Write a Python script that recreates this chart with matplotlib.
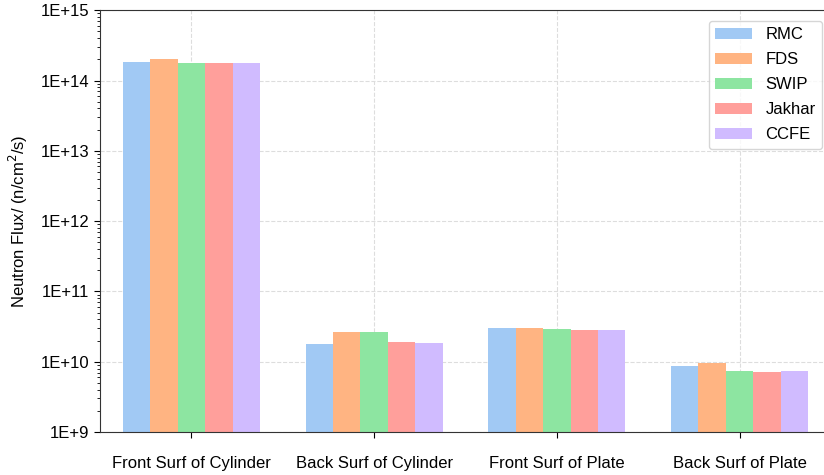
#!/usr/bin/env python3
import numpy as np
import matplotlib
matplotlib.use("Agg")
import matplotlib.pyplot as plt
from matplotlib.ticker import FixedLocator, FuncFormatter, LogLocator, NullFormatter

# data
categories = ["Front Surf of Cylinder", "Back Surf of Cylinder",
              "Front Surf of Plate", "Back Surf of Plate"]
codes = ["RMC", "FDS", "SWIP", "Jakhar", "CCFE"]
rmc = [1.82e14, 1.80e10, 3.05e10, 8.75e9]
fds = [2.05e14, 2.67e10, 3.05e10, 9.45e9]
swip = [1.78e14, 2.67e10, 2.88e10, 7.45e9]
jakhar = [1.78e14, 1.88e10, 2.82e10, 7.20e9]
ccfe = [1.78e14, 1.85e10, 2.85e10, 7.45e9]
colors = ["#a1c9f4", "#ffb482", "#8de5a1", "#ff9f9b", "#d0bbff"]

plt.rcParams["font.family"] = ["Liberation Sans", "DejaVu Sans"]

fig = plt.figure(figsize=(8.24, 4.75), dpi=100)
# the original figure is cropped on the right, so the axes run past the edge
ax = fig.add_axes([0.1214, 0.0905, 0.887, 0.888])

x = np.arange(len(categories))
width = 0.15
series = [rmc, fds, swip, jakhar, ccfe]
for i, (name, vals) in enumerate(zip(codes, series)):
    ax.bar(x + (i - 2) * width, vals, width, color=colors[i], label=name,
           zorder=2)

ax.set_yscale("log")
ax.set_ylim(1e9, 1e15)
ax.set_xlim(-0.5, 3.5)
ax.yaxis.set_major_locator(FixedLocator([10.0 ** k for k in range(9, 16)]))
ax.yaxis.set_major_formatter(FuncFormatter(lambda v, p: "1E+%d" % round(np.log10(v))))
ax.yaxis.set_minor_locator(LogLocator(base=10, subs=np.arange(2, 10)))
ax.yaxis.set_minor_formatter(NullFormatter())

ax.set_xticks(x)
ax.set_xticklabels(categories)
ax.tick_params(axis="both", which="major", labelsize=12, length=4, direction="out")
ax.tick_params(axis="x", which="major", pad=13)
ax.tick_params(axis="y", which="minor", length=2)
ax.set_ylabel("Neutron Flux/ (n/cm$^2$/s)", fontsize=12, labelpad=8)

ax.grid(True, which="major", linestyle="--", color="#dddddd", linewidth=0.8, zorder=0)
ax.set_axisbelow(True)
for s in ax.spines.values():
    s.set_color("#333333")

ax.legend(loc="upper right", bbox_to_anchor=(0.9995, 0.995), fontsize=12,
          frameon=True, edgecolor="#cccccc", fancybox=True,
          handlelength=2.2, labelspacing=0.6)

fig.savefig("out.png", dpi=100)
